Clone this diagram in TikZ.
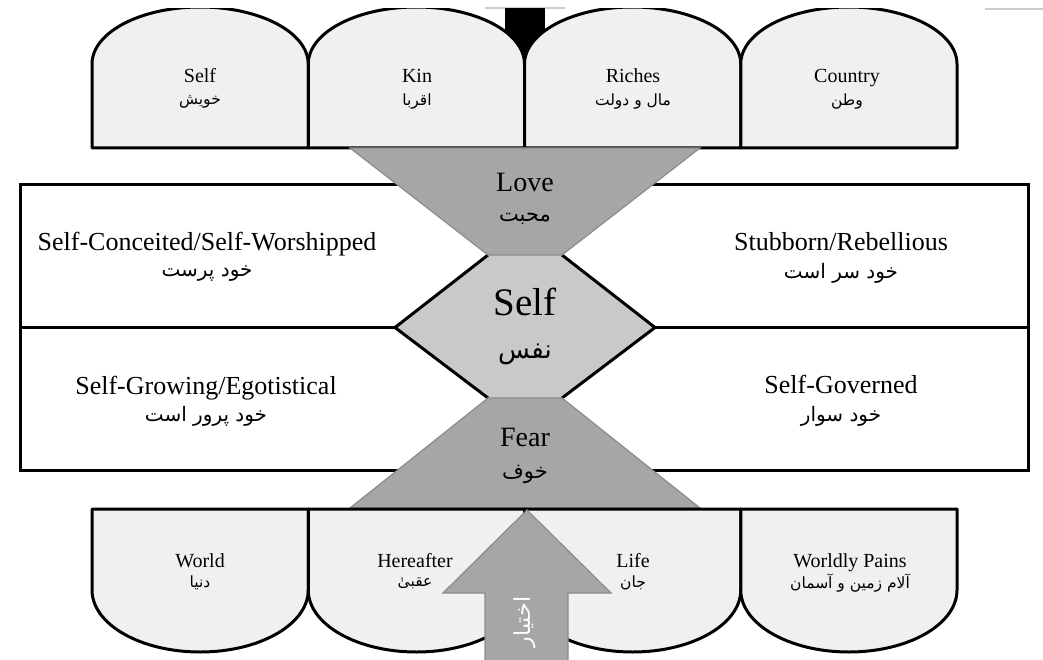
\documentclass[tikz,border=0pt]{standalone}
\usepackage{fontspec}
\setmainfont{Liberation Serif}
\newfontfamily\arabicfont[Script=Arabic]{DejaVu Sans}
\TeXXeTstate=1
\newcommand{\artxt}[1]{\beginR #1\endR}
\begin{document}
\begin{tikzpicture}[x=1pt,y=-1pt,
  arch/.style={draw=black,line width=3pt,fill=black!6,line join=round},
  box/.style={draw=black,line width=3pt,fill=white},
  trap/.style={fill=black!35,draw=black!45,line width=1.2pt},
  hexedge/.style={draw=black,line width=3pt,line join=miter},
  enlbl/.style={font=\fontsize{20}{24}\selectfont,inner sep=0pt,anchor=base},
  arlbl/.style={font=\arabicfont\fontsize{15.5}{18}\selectfont,inner sep=0pt},
  enmid/.style={font=\fontsize{26}{30}\selectfont,inner sep=0pt,anchor=base},
  armid/.style={font=\arabicfont\fontsize{20}{24}\selectfont,inner sep=0pt},
  encen/.style={font=\fontsize{28}{32}\selectfont,inner sep=0pt,anchor=base},
  arcen/.style={font=\arabicfont\fontsize{21}{25}\selectfont,inner sep=0pt},
]
\useasboundingbox (0,0) rectangle (1043,660);
\draw[black!20,line width=1.2pt] (485,8) -- (565,8);
\draw[black!20,line width=1.2pt] (985,9) -- (1043,9);
\begin{scope}
\clip (0,9) rectangle (1043,660);
% black shaft behind top arches
\fill[black] (505,0) rectangle (545,148);
% top arches
\foreach \i in {0,1,2,3}{
  \pgfmathsetmacro\L{92+216.25*\i}
  \pgfmathsetmacro\R{\L+216.25}
  \draw[arch] (\L,148) -- (\L,64) arc[start angle=180,end angle=360,x radius=108.125,y radius=57] -- (\R,148) -- cycle;
}
% rectangles
\draw[box] (20,185) rectangle (1028,327);
\draw[box] (20,327) rectangle (1028,470);
% hexagon
\fill[black!21] (488,255) -- (562,255) -- (655,327.5) -- (562,398) -- (488,398) -- (395,327.5) -- cycle;
\draw[hexedge] (488,255) -- (395,327.5) -- (488,398);
\draw[hexedge] (562,255) -- (655,327.5) -- (562,398);
% trapezoids
\draw[trap] (350,148) -- (700,148) -- (562,255) -- (488,255) -- cycle;
\draw[trap] (488,398) -- (562,398) -- (700,508) -- (350,508) -- cycle;
% bottom arches
\foreach \i in {0,1,2,3}{
  \pgfmathsetmacro\L{92+216.25*\i}
  \pgfmathsetmacro\R{\L+216.25}
  \draw[arch] (\L,509) -- (\R,509) -- (\R,590) arc[start angle=0,end angle=180,x radius=108.125,y radius=62] -- cycle;
}
% bottom arrow
\draw[trap] (527,510) -- (611,593) -- (568,593) -- (568,672) -- (485,672) -- (485,593) -- (443,593) -- cycle;
\end{scope}
\node[font=\arabicfont\fontsize{22}{26}\selectfont,text=white,rotate=90,inner sep=0pt] (ikhtiyar) at (525,622) {\artxt{اختیار}};
% top arch labels
\node[enlbl] (tSelf) at (200,83) {Self};
\node[arlbl] (tSelfA) at (200,102) {\artxt{خویش}};
\node[enlbl] (tKin) at (417,83) {Kin};
\node[arlbl] (tKinA) at (417,102) {\artxt{اقربا}};
\node[enlbl] (tRich) at (633,83) {Riches};
\node[arlbl] (tRichA) at (633,102) {\artxt{مال و دولت}};
\node[enlbl] (tCoun) at (847,83) {Country};
\node[arlbl] (tCounA) at (847,102) {\artxt{وطن}};
% bottom arch labels
\node[enlbl] (bWorld) at (200,567) {World};
\node[arlbl] (bWorldA) at (200,583) {\artxt{دنیا}};
\node[enlbl] (bHere) at (415,567) {Hereafter};
\node[arlbl] (bHereA) at (415,583) {\artxt{عقبیٰ}};
\node[enlbl] (bLife) at (633,567) {Life};
\node[arlbl] (bLifeA) at (633,583) {\artxt{جان}};
\node[enlbl] (bPain) at (850,567) {Worldly Pains};
\node[arlbl] (bPainA) at (850,583) {\artxt{آلام زمین و آسمان}};
% rectangle labels
\node[enmid] (lc) at (207,251) {Self-Conceited/Self-Worshipped};
\node[armid] (lcA) at (207,274) {\artxt{خود پرست}};
\node[enmid] (lg) at (206,394) {Self-Growing/Egotistical};
\node[armid] (lgA) at (206,416) {\artxt{خود پرور است}};
\node[enmid] (rs) at (841,251) {Stubborn/Rebellious};
\node[armid] (rsA) at (841,273) {\artxt{خود سر است}};
\node[enmid] (rg) at (841,393) {Self-Governed};
\node[armid] (rgA) at (841,416) {\artxt{خود سوار}};
% centre labels
\node[encen] (love) at (525,192) {Love};
\node[arcen] (loveA) at (525,219) {\artxt{محبت}};
\node[font=\fontsize{39}{44}\selectfont,inner sep=0pt,anchor=base] (self) at (525,315) {Self};
\node[font=\arabicfont\fontsize{26}{30}\selectfont,inner sep=0pt] (selfA) at (525,354) {\artxt{نفس}};
\node[encen] (fear) at (525,446) {Fear};
\node[arcen] (fearA) at (525,474) {\artxt{خوف}};
\end{tikzpicture}
\end{document}
